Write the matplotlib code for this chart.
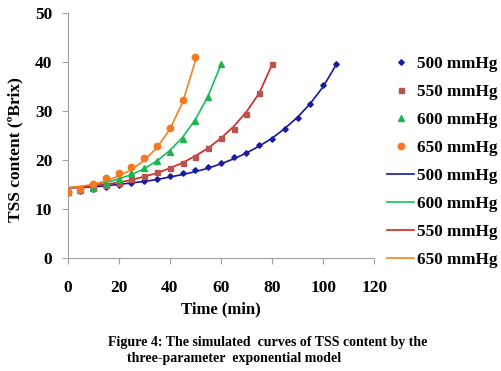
import matplotlib
matplotlib.use("Agg")
import matplotlib.pyplot as plt

plt.rcParams["font.family"] = ["Liberation Serif", "DejaVu Serif"]
plt.rcParams["font.weight"] = "bold"

# measured TSS content (ºBrix) every 5 min
t_500 = [0, 5, 10, 15, 20, 25, 30, 35, 40, 45, 50, 55, 60, 65, 70, 75, 80, 85, 90, 95, 100, 105]
y_500 = [13.5, 13.6, 14.0, 14.4, 14.8, 15.2, 15.6, 16.1, 16.8, 17.3, 17.9, 18.6, 19.3, 20.5, 21.5,
         23.0, 24.3, 26.2, 28.6, 31.4, 35.3, 39.6]
t_550 = [0, 5, 10, 15, 20, 25, 30, 35, 40, 45, 50, 55, 60, 65, 70, 75, 80]
y_550 = [13.5, 13.8, 14.3, 14.8, 15.3, 16.0, 16.7, 17.5, 18.4, 19.4, 20.6, 22.4, 24.5, 26.3, 29.3,
         33.7, 39.6]
t_600 = [0, 5, 10, 15, 20, 25, 30, 35, 40, 45, 50, 55, 60]
y_600 = [13.5, 13.8, 14.3, 15.0, 16.0, 17.3, 18.4, 19.8, 21.6, 24.3, 28.0, 32.8, 39.6]
t_650 = [0, 5, 10, 15, 20, 25, 30, 35, 40, 45, 50]
y_650 = [13.5, 14.0, 15.0, 16.3, 17.4, 18.6, 20.4, 22.8, 26.5, 32.3, 40.9]

# simulated curves (three-parameter exponential model)
fit_500 = [14.3, 14.4, 14.5, 14.7, 15.0, 15.3, 15.6, 16.0, 16.5, 17.0, 17.6, 18.3, 19.2, 20.2, 21.4,
           22.8, 24.4, 26.4, 28.7, 31.5, 34.9, 39.3]
fit_550 = [14.3, 14.4, 14.7, 15.0, 15.4, 15.9, 16.6, 17.3, 18.3, 19.4, 20.8, 22.4, 24.4, 26.8, 29.8,
           33.6, 39.4]
fit_600 = [14.3, 14.5, 14.9, 15.4, 16.1, 17.0, 18.2, 19.8, 21.9, 24.6, 28.2, 33.0, 39.4]
fit_650 = [14.3, 14.6, 15.0, 15.7, 16.7, 18.0, 19.9, 22.5, 26.2, 31.7, 40.1]

fig = plt.figure(figsize=(5.02, 3.71), dpi=100)
ax = fig.add_axes([0.1345, 0.3046, 0.611, 0.6612])

ms = dict(linestyle="none", zorder=3)
ax.plot(t_500, y_500, marker="D", markersize=2.8, color="#1C1C9C", label="500 mmHg", **ms)
ax.plot(t_550, y_550, marker="s", markersize=3.6, color="#B85450", label="550 mmHg", **ms)
ax.plot(t_600, y_600, marker="^", markersize=4.2, color="#1EB34E", label="600 mmHg", **ms)
ax.plot(t_650, y_650, marker="o", markersize=4.6, color="#F57A1F", label="650 mmHg", **ms)

ax.plot(t_500, fit_500, color="#1515A8", linewidth=1.2, label="500 mmHg")
ax.plot(t_600, fit_600, color="#12C060", linewidth=1.2, label="600 mmHg")
ax.plot(t_550, fit_550, color="#D42424", linewidth=1.2, label="550 mmHg")
ax.plot(t_650, fit_650, color="#F5801E", linewidth=1.2, label="650 mmHg")

ax.set_xlim(0, 120)
ax.set_ylim(0, 50)
ax.set_xticks(range(0, 121, 20))
ax.set_yticks(range(0, 51, 10))
for s in ("top", "right"):
    ax.spines[s].set_visible(False)
for s in ("left", "bottom"):
    ax.spines[s].set_color("#A0A0A0")
    ax.spines[s].set_linewidth(0.8)
ax.tick_params(direction="out", length=4, color="#A0A0A0", labelsize=12.5)
ax.tick_params(axis="x", pad=12)
ax.tick_params(axis="y", pad=7)
ax.set_xlabel("Time (min)", fontsize=12, fontweight="bold", va="top")
ax.xaxis.set_label_coords(0.5, -0.175)
ax.set_ylabel("TSS content (ºBrix)", fontsize=12.5, fontweight="bold")
ax.yaxis.set_label_coords(-0.145, 0.444)

fig.legend(loc="upper left", bbox_to_anchor=(0.771, 0.849), frameon=False,
           fontsize=12.3, handlelength=1.6, handletextpad=0.15, labelspacing=0.7,
           borderpad=0, borderaxespad=0)

fig.text(0.215, 0.058, "Figure 4: The simulated  curves of TSS content by the",
         fontsize=10, fontweight="bold", ha="left", va="bottom")
fig.text(0.252, 0.015, "three-parameter  exponential model",
         fontsize=10, fontweight="bold", ha="left", va="bottom")

fig.savefig("out.png", dpi=100)
